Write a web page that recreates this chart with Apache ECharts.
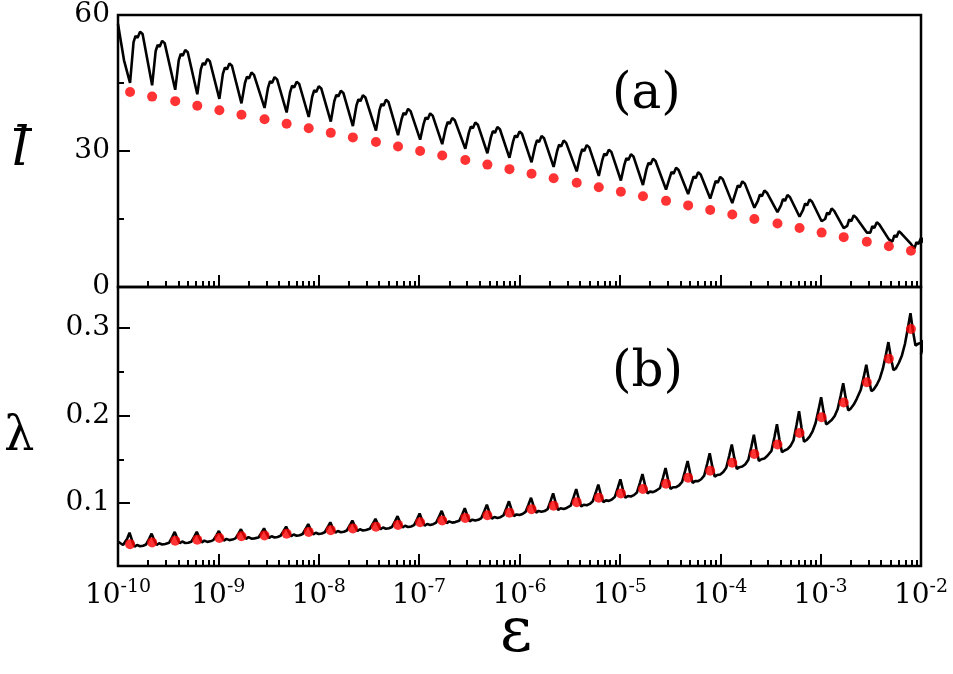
<!DOCTYPE html>
<html><head><meta charset="utf-8">
<script src="https://cdn.jsdelivr.net/npm/echarts@6/dist/echarts.min.js"></script>
<style>html,body{margin:0;padding:0;background:#fff}#c{width:953px;height:674px}</style>
</head><body><div id="c"></div>
<script>
// log10(epsilon) positions of the red dots
const dotLog = [-9.88,-9.66,-9.43,-9.21,-8.99,-8.77,-8.54,-8.32,-8.10,-7.88,-7.66,-7.43,-7.21,-6.99,-6.77,-6.54,-6.32,-6.10,-5.88,-5.66,-5.43,-5.21,-4.99,-4.77,-4.54,-4.32,-4.10,-3.88,-3.66,-3.43,-3.21,-2.99,-2.77,-2.54,-2.32,-2.10];
const dotL = [43,42,41,40,39,38,37,36,35,34,33,32,31,30,29,28,27,26,25,24,23,22,21,20,19,18,17,16,15,14,13,12,11,10,9,8];
const dotLambda = [0.053,0.055,0.057,0.058,0.060,0.062,0.063,0.065,0.067,0.069,0.071,0.073,0.075,0.078,0.080,0.083,0.086,0.089,0.093,0.097,0.101,0.106,0.111,0.116,0.122,0.129,0.137,0.146,0.156,0.167,0.180,0.198,0.215,0.238,0.265,0.299];
// black curve (a): minimum near each dot and plateau after it
const lineTopMin = [45,44.5,43.5,42.5,41.5,40.5,39.5,38.5,37.5,36.5,35.5,34.5,33.5,32.5,31.5,30.5,29.5,28.5,27.5,26.5,25.5,24.5,23.5,22.5,21.5,20.5,19.5,18.5,17.5,16.5,15.5,14.5,13,12,10.5,9.5];
const lineTopHi = [56,54,52,50,49,47,46,45,44,43,42,41,39,38,37,36,35,34,33,32,31,30,29,28,26,25,24,23,21,20,19,17,15.5,14,12,10.5];
// black curve (b): peak near each dot and plateau after it
const lineBotPeak = [0.066,0.065,0.067,0.067,0.068,0.070,0.071,0.073,0.076,0.078,0.080,0.082,0.085,0.088,0.091,0.094,0.098,0.102,0.106,0.111,0.116,0.121,0.127,0.133,0.140,0.148,0.157,0.167,0.178,0.190,0.205,0.221,0.237,0.258,0.284,0.317];
const lineBotLow = [0.050,0.052,0.054,0.055,0.057,0.059,0.060,0.062,0.064,0.066,0.068,0.070,0.072,0.074,0.077,0.079,0.082,0.085,0.089,0.092,0.096,0.101,0.106,0.111,0.116,0.123,0.130,0.139,0.148,0.158,0.170,0.190,0.206,0.228,0.252,0.280];
const xTickLabels = ['-10','-9','-8','-7','-6','-5','-4','-3','-2'];

const topLine = [[-10,58],[-9.97,54],[-9.94,50]];
const botLine = [[-10,0.056],[-9.95,0.052]];
for (let i=0;i<dotLog.length;i++){
  const d=dotLog[i], h=lineTopHi[i], m=lineTopMin[i];
  topLine.push([d,m],[d+0.035,h-2],[d+0.055,h-0.6],[d+0.075,h-1],[d+0.1,h+0.3],[d+0.125,h-0.2],[d+0.14,h]);
  const p=lineBotPeak[i], lo=lineBotLow[i];
  const nl = i+1<lineBotLow.length ? lineBotLow[i+1] : lo+0.01;
  botLine.push([d-0.06,lo+(p-lo)*0.05],[d-0.03,lo+(p-lo)*0.55],[d-0.005,p],[d+0.02,lo+(p-lo)*0.45],[d+0.045,lo],[d+0.07,lo+0.002],[d+0.1,lo+(nl-lo)*0.3],[d+0.13,lo+(nl-lo)*0.6]);
}
topLine.push([-2,9.8]);
botLine.push([-2,0.27]);

const majors=[-10,-9,-8,-7,-6,-5,-4,-3,-2];
const minors=[];
for(let e=-10;e<-2;e++) for(let k=2;k<=9;k++) minors.push(e+Math.log10(k));

const F='DejaVu Serif';
function xAx(grid,labels,vals,len){
  return {type:'value',gridIndex:grid,min:-10,max:-2,position:'bottom',
    axisLine:{show:false},splitLine:{show:false},
    axisTick:{show:true,inside:true,length:len,customValues:vals,lineStyle:{color:'#000',width:2}},
    axisLabel:{show:labels,customValues:majors,margin:12,
      formatter:v=>'{b|10}{s|'+xTickLabels[Math.round(v)+10]+'}',
      rich:{b:{fontFamily:F,fontSize:28,color:'#000'},s:{fontFamily:F,fontSize:19,color:'#000',padding:[0,0,16,0]}}}};
}
function yAx(grid,min,max,maj,fmt){
  return {type:'value',gridIndex:grid,min:min,max:max,position:'left',
    axisLine:{show:false},splitLine:{show:false},
    axisTick:{show:true,inside:true,length:12,customValues:maj,lineStyle:{color:'#000',width:2}},
    axisLabel:{customValues:maj,margin:8,formatter:fmt,fontFamily:F,fontSize:28,color:'#000'}};
}
const yMinorAx=(grid,min,max,vals)=>({type:'value',gridIndex:grid,min:min,max:max,position:'left',
    axisLine:{show:false},splitLine:{show:false},axisLabel:{show:false},
    axisTick:{show:true,inside:true,length:6,customValues:vals,lineStyle:{color:'#000',width:2}}});

const chart=echarts.init(document.getElementById('c'));
chart.setOption({
  animation:false,
  textStyle:{fontFamily:F},
  grid:[{left:118,top:15,width:803,height:272,show:true,borderColor:'#000',borderWidth:2.5},
        {left:118,top:287,width:803,height:279,show:true,borderColor:'#000',borderWidth:2.5}],
  xAxis:[xAx(0,false,majors,12),xAx(0,false,minors,6),xAx(1,true,majors,12),xAx(1,false,minors,6)],
  yAxis:[yAx(0,0,60,[0,30,60],v=>String(v)),yMinorAx(0,0,60,[15,45]),
         yAx(1,0.028,0.347,[0.1,0.2,0.3],v=>v.toFixed(1)),yMinorAx(1,0.028,0.347,[0.15,0.25])],
  series:[
    {type:'line',xAxisIndex:0,yAxisIndex:0,data:topLine,showSymbol:false,lineStyle:{color:'#000',width:2.6},z:2},
    {type:'scatter',xAxisIndex:0,yAxisIndex:0,data:dotLog.map((d,i)=>[d,dotL[i]]),symbolSize:10,itemStyle:{color:'#ff0000'},z:3},
    {type:'line',xAxisIndex:2,yAxisIndex:2,data:botLine,showSymbol:false,lineStyle:{color:'#000',width:2.6},z:2},
    {type:'scatter',xAxisIndex:2,yAxisIndex:2,data:dotLog.map((d,i)=>[d,dotLambda[i]]),symbolSize:10,itemStyle:{color:'#ff0000'},z:3}
  ],
  graphic:[
    {type:'text',left:612,top:70,style:{text:'(a)',fontFamily:F,fontSize:50,fill:'#000'}},
    {type:'text',left:612,top:348,style:{text:'(b)',fontFamily:F,fontSize:50,fill:'#000'}},
    {type:'text',left:12,top:124,style:{text:'l',fontFamily:F,fontStyle:'italic',fontSize:54,fill:'#000'}},
    {type:'rect',shape:{x:14,y:128,width:18,height:3},style:{fill:'#000'}},
    {type:'text',left:4,top:414,style:{text:'λ',fontFamily:F,fontSize:48,fill:'#000'}},
    {type:'text',left:500,top:604,style:{text:'ε',fontFamily:F,fontSize:62,fill:'#000'}}
  ]
});
</script></body></html>
